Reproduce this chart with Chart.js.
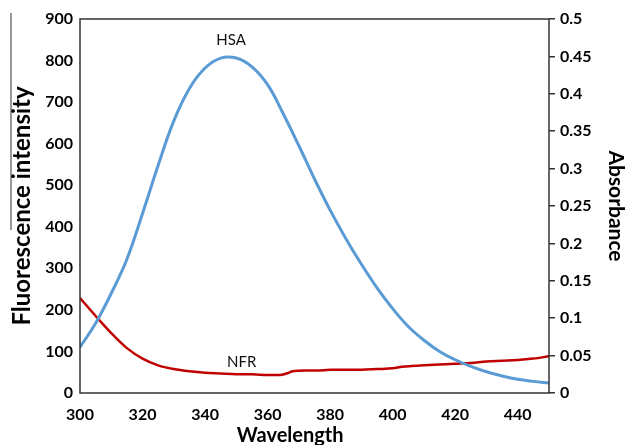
<!DOCTYPE html>
<html>
<head>
<meta charset="utf-8">
<script src="https://cdn.jsdelivr.net/npm/chart.js@4.4.1/dist/chart.umd.min.js"></script>
<style>
  body { margin: 0; background: #fff; }
  #wrap { width: 625px; height: 445px; }
</style>
</head>
<body>
<div id="wrap"><canvas id="myChart" width="625" height="445"></canvas></div>
<script>
var ctx = document.getElementById("myChart").getContext('2d');

// HSA fluorescence (left axis)
const hsaWavelength = [300,305,310,315,320,325,330,335,340,345,350,355,360,365,370,375,380,385,390,395,400,405,410,415,420,425,430,435,440,445,450];
const hsaIntensity  = [110,168,240,322,432,548,655,733,782,806,806,785,742,672,595,515,440,372,310,253,203,160,127,100,80,64,51,41,33,28,24];

// NFR absorbance (right axis)
const nfrWavelength = [300,305,310,315,320,325,330,335,340,345,350,355,360,364,366,368,372,376,380,385,390,395,400,403,406,410,415,420,425,430,435,440,445,450];
const nfrAbsorbance = [0.127,0.103,0.080,0.060,0.046,0.037,0.032,0.029,0.027,0.026,0.025,0.025,0.024,0.024,0.026,0.029,0.030,0.030,0.031,0.031,0.031,0.032,0.033,0.035,0.036,0.037,0.038,0.039,0.040,0.042,0.043,0.044,0.046,0.049];

const xTicks = [300,320,340,360,380,400,420,440];
const absTicks = [0,0.05,0.1,0.15,0.2,0.25,0.3,0.35,0.4,0.45,0.5];

const toPoints = (xs, ys) => xs.map((x, i) => ({x: x, y: ys[i]}));

const extras = {
  id: 'extras',
  afterDraw(chart) {
    const {ctx, chartArea: a, scales} = chart;
    ctx.save();
    // plot frame
    ctx.strokeStyle = '#333';
    ctx.lineWidth = 1.5;
    ctx.strokeRect(a.left, a.top, a.right - a.left, a.bottom - a.top);
    // stray line left of the y title
    ctx.lineWidth = 1;
    ctx.beginPath();
    ctx.moveTo(11, 13);
    ctx.lineTo(11, 230);
    ctx.stroke();
    // curve labels
    ctx.fillStyle = '#111';
    ctx.textAlign = 'center';
    ctx.textBaseline = 'middle';
    ctx.font = '15px Lato';
    ctx.fillText('HSA', scales.x.getPixelForValue(348.3), scales.y.getPixelForValue(848));
    ctx.fillText('NFR', scales.x.getPixelForValue(351.7), scales.y1.getPixelForValue(0.0418));
    // x title (sits left of the plot centre in the original)
    ctx.fillStyle = '#000';
    ctx.font = 'bold 20px Lato';
    ctx.fillText('Wavelength', scales.x.getPixelForValue(367.2), chart.height - 9);
    ctx.restore();
  }
};

const data = {
  datasets: [{
    label: 'HSA',
    data: toPoints(hsaWavelength, hsaIntensity),
    yAxisID: 'y',
    borderColor: '#5B9BD5',
    borderWidth: 3,
    pointRadius: 0,
    fill: false,
    tension: 0.4
  }, {
    label: 'NFR',
    data: toPoints(nfrWavelength, nfrAbsorbance),
    yAxisID: 'y1',
    borderColor: '#C00000',
    borderWidth: 2.5,
    pointRadius: 0,
    fill: false,
    cubicInterpolationMode: 'monotone'
  }]
};

const tickFont = {family: 'Lato', size: 16, weight: 'bold'};

const config = {
  type: 'line',
  data,
  plugins: [extras],
  options: {
    responsive: false,
    animation: false,
    layout: {padding: {top: 19, left: 0, right: 0, bottom: 0}},
    plugins: {legend: {display: false}, tooltip: {enabled: false}},
    scales: {
      x: {
        type: 'linear',
        min: 300,
        max: 450,
        afterBuildTicks: s => { s.ticks = xTicks.map(v => ({value: v})); },
        afterFit: s => { s.height = 52; },
        grid: {display: false, drawTicks: false},
        border: {display: false},
        ticks: {color: '#000', font: tickFont, padding: 12, maxRotation: 0}
      },
      y: {
        position: 'left',
        min: 0,
        max: 900,
        ticks: {stepSize: 100, color: '#000', font: tickFont, padding: 7},
        afterFit: s => { s.width = 80; },
        grid: {display: false, drawTicks: false},
        border: {display: false},
        title: {display: true, text: 'Fluorescence intensity', color: '#000',
                font: {family: 'Lato', size: 24, weight: 'bold'}, padding: {top: 8, bottom: 0}}
      },
      y1: {
        position: 'right',
        min: 0,
        max: 0.5,
        afterBuildTicks: s => { s.ticks = absTicks.map(v => ({value: v})); },
        afterFit: s => { s.width = 76; },
        ticks: {color: '#000', font: tickFont, padding: 5,
                callback: v => String(+v.toFixed(2))},
        grid: {drawOnChartArea: false, drawTicks: true, tickLength: 6, color: '#333', lineWidth: 1.5},
        border: {display: false},
        title: {display: true, text: 'Absorbance', color: '#000',
                font: {family: 'Lato', size: 21, weight: 'bold'}, padding: {top: -3, bottom: 0}}
      }
    }
  }
};

var myChart = new Chart(ctx, config);
</script>
</body>
</html>
